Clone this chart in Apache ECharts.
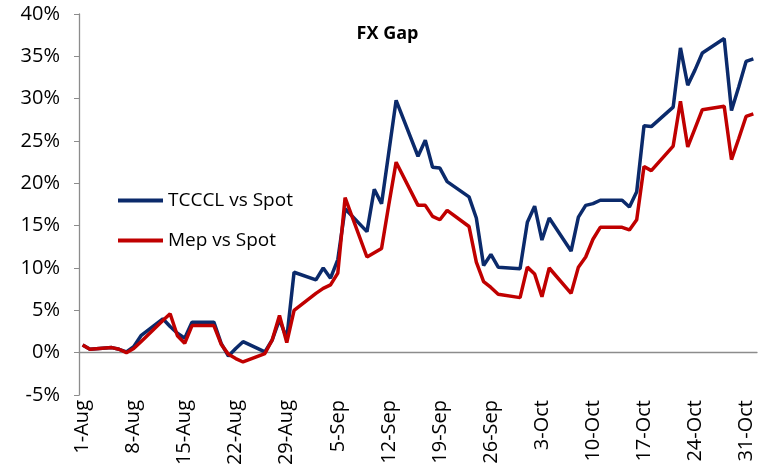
<!DOCTYPE html>
<html>
<head>
<meta charset="utf-8">
<script src="https://cdn.jsdelivr.net/npm/echarts@6/dist/echarts.min.js"></script>
<style>
  html, body { margin: 0; padding: 0; background: #fff; }
  #chart { width: 775px; height: 475px; }
</style>
</head>
<body>
<div id="chart"></div>
<script>
// trading days shown (weekends / holidays are just joined by the line)
const dates = [
  '1-Aug', '2-Aug', '5-Aug', '6-Aug', '7-Aug', '8-Aug', '9-Aug', '12-Aug', '13-Aug', '14-Aug', '15-Aug',
  '16-Aug', '19-Aug', '20-Aug', '21-Aug', '22-Aug', '23-Aug', '26-Aug', '27-Aug', '28-Aug', '29-Aug', '30-Aug',
  '2-Sep', '3-Sep', '4-Sep', '5-Sep', '6-Sep', '9-Sep', '10-Sep', '11-Sep', '12-Sep', '13-Sep', '16-Sep',
  '17-Sep', '18-Sep', '19-Sep', '20-Sep', '23-Sep', '24-Sep', '25-Sep', '26-Sep', '27-Sep', '30-Sep',
  '1-Oct', '2-Oct', '3-Oct', '4-Oct', '7-Oct', '8-Oct', '9-Oct', '10-Oct', '11-Oct', '14-Oct', '15-Oct',
  '16-Oct', '17-Oct', '18-Oct', '21-Oct', '22-Oct', '23-Oct', '24-Oct', '25-Oct', '28-Oct', '29-Oct',
  '30-Oct', '31-Oct', '1-Nov',
]

// TCCCL vs Spot, %
const tcccl = [
  0.9, 0.4, 0.6, 0.4, 0.1, 0.7, 2.0, 4.0, 3.1, 2.3, 1.7,
  3.6, 3.6, 1.1, -0.4, 0.5, 1.3, 0.1, 1.5, 3.9, 1.7, 9.5,
  8.6, 10.0, 8.8, 11.0, 17.0, 14.3, 19.3, 17.6, 23.7, 29.8, 23.2,
  25.1, 21.9, 21.8, 20.2, 18.4, 15.9, 10.3, 11.6, 10.1, 9.9,
  15.4, 17.3, 13.3, 15.9, 12.0, 16.0, 17.4, 17.6, 18.0, 18.0, 17.2,
  19.0, 26.8, 26.7, 29.0, 36.0, 31.6, 33.4, 35.4, 37.1, 28.6,
  31.4, 34.4, 34.7,
]

// Mep vs Spot, %
const mep = [
  0.9, 0.4, 0.6, 0.4, 0.0, 0.5, 1.3, 3.8, 4.6, 2.0, 1.1,
  3.2, 3.2, 1.0, -0.2, -0.7, -1.1, -0.1, 1.5, 4.4, 1.2, 5.0,
  7.0, 7.6, 8.0, 9.4, 18.3, 11.3, 11.8, 12.3, 17.5, 22.5, 17.4,
  17.4, 16.1, 15.7, 16.8, 14.9, 10.7, 8.4, 7.7, 6.9, 6.5,
  10.1, 9.3, 6.6, 10.0, 7.0, 10.1, 11.3, 13.4, 14.8, 14.8, 14.5,
  15.7, 22.0, 21.5, 24.4, 29.7, 24.3, 26.5, 28.7, 29.1, 22.8,
  25.3, 27.9, 28.2,
]

const yTicks = { min: -5, max: 40, step: 5 }

// calendar axis, 1-Aug to 1-Nov (Excel date axis style)
const months = ['Jan', 'Feb', 'Mar', 'Apr', 'May', 'Jun', 'Jul', 'Aug', 'Sep', 'Oct', 'Nov', 'Dec']
const days = []
for (let d = new Date(2019, 7, 1); d <= new Date(2019, 10, 1); d.setDate(d.getDate() + 1)) {
  days.push(d.getDate() + '-' + months[d.getMonth()])
}

function onCalendar(values) {
  return days.map((day) => {
    const i = dates.indexOf(day)
    return i < 0 ? null : values[i]
  })
}

const font = 'Open Sans'
const axisGrey = '#8c8c8c'

const chart = echarts.init(document.getElementById('chart'))
chart.setOption({
  animation: false,
  backgroundColor: '#fff',
  title: {
    text: 'FX Gap',
    left: 'center',
    top: 20,
    textStyle: { fontFamily: font, fontSize: 18, fontWeight: 'bold', color: '#000' },
  },
  legend: {
    orient: 'vertical',
    left: 113,
    top: 186,
    icon: 'rect',
    itemWidth: 45,
    itemHeight: 4,
    itemGap: 21,
    textStyle: { fontFamily: font, fontSize: 19, color: '#000' },
    data: ['TCCCL vs Spot', 'Mep vs Spot'],
  },
  grid: { left: 79, right: 18, top: 14, bottom: 80, outerBoundsMode: 'none' },
  xAxis: [
    {
      // line and ticks sit on 0%
      type: 'category',
      data: days,
      boundaryGap: true,
      axisLine: { onZero: true, lineStyle: { color: axisGrey, width: 1.3 } },
      axisTick: { interval: 6, length: 6, lineStyle: { color: axisGrey } },
      axisLabel: { show: false },
      splitLine: { show: false },
    },
    {
      // labels stay at the bottom of the plot
      type: 'category',
      data: days,
      position: 'bottom',
      boundaryGap: true,
      axisLine: { show: false, onZero: false },
      axisTick: { show: false },
      axisLabel: {
        interval: 6,
        rotate: 90,
        margin: 5,
        fontFamily: font,
        fontSize: 20,
        color: '#000',
      },
      splitLine: { show: false },
    },
  ],
  yAxis: {
    type: 'value',
    min: yTicks.min,
    max: yTicks.max,
    interval: yTicks.step,
    axisLine: { show: true, lineStyle: { color: axisGrey, width: 1.3 } },
    axisTick: { show: true, length: 5, lineStyle: { color: axisGrey } },
    axisLabel: {
      formatter: '{value}%',
      margin: 19,
      fontFamily: font,
      fontSize: 20,
      color: '#000',
    },
    splitLine: { show: false },
  },
  series: [
    {
      name: 'TCCCL vs Spot',
      type: 'line',
      data: onCalendar(tcccl),
      connectNulls: true,
      symbol: 'none',
      lineStyle: { color: '#0b2a6b', width: 3.5 },
      itemStyle: { color: '#0b2a6b' },
      z: 2,
    },
    {
      name: 'Mep vs Spot',
      type: 'line',
      data: onCalendar(mep),
      connectNulls: true,
      symbol: 'none',
      lineStyle: { color: '#c00000', width: 3.5 },
      itemStyle: { color: '#c00000' },
      z: 3,
    },
  ],
})
</script>
</body>
</html>
